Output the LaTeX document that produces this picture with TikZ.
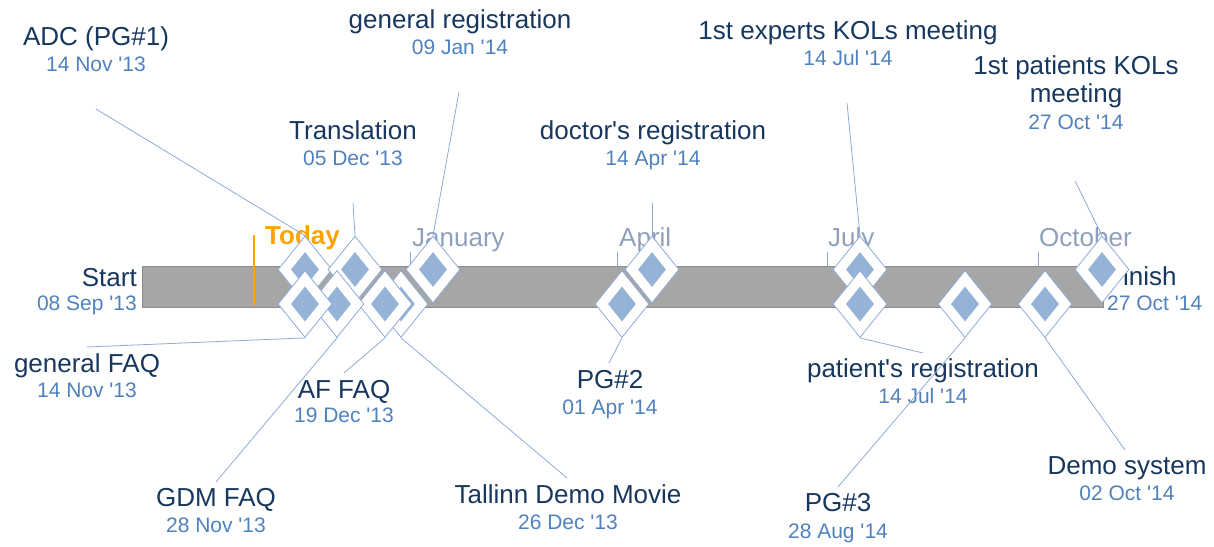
\documentclass[tikz,border=0pt]{standalone}
\usepackage{fontspec}
\setmainfont{Liberation Sans}
\usetikzlibrary{shapes.geometric}
\definecolor{navy}{RGB}{23,55,94}
\definecolor{dateblue}{RGB}{79,129,189}
\definecolor{monthgray}{RGB}{142,160,188}
\definecolor{connblue}{RGB}{143,170,214}
\definecolor{fillblue}{RGB}{149,179,215}
\definecolor{todayorange}{RGB}{255,163,0}
\definecolor{barfill}{RGB}{166,166,166}
\definecolor{barline}{RGB}{140,140,140}
\newcommand\apo{\textquotesingle}
\newcommand\mstone[3]{\node[msout] (d#1) at (#2,#3) {}; \node[msin] (i#1) at (d#1.center) {};}
\begin{document}
\begin{tikzpicture}[x=1pt,y=-1pt,
  ttl/.style={font=\fontsize{26}{30}\selectfont, text=navy, inner sep=0pt, anchor=base},
  dte/.style={font=\fontsize{21}{25}\selectfont, text=dateblue, inner sep=0pt, anchor=base},
  mon/.style={font=\fontsize{26}{30}\selectfont, text=monthgray, inner sep=0pt, anchor=base west},
  montick/.style={draw=connblue, line width=0.8pt},
  conn/.style={draw=connblue, line width=0.8pt},
  msout/.style={shape=diamond, draw=connblue, fill=white, line width=0.8pt, minimum width=54pt, minimum height=67pt, inner sep=0pt},
  msin/.style={shape=diamond, fill=fillblue, minimum width=28pt, minimum height=35pt, inner sep=0pt},
]
\useasboundingbox (0,0) rectangle (1214,546);
% bar
\node[draw=barline, fill=barfill, line width=0.8pt, minimum width=961pt, minimum height=41pt, inner sep=0pt, anchor=north west] (bar) at (142,266) {};
% today line
\draw[todayorange, line width=1.3pt] (254,235) -- (254,305);
% month ticks and labels
\draw[montick] (410,252) -- (410,266);
\draw[montick] (617,252) -- (617,266);
\draw[montick] (827,252) -- (827,266);
\draw[montick] (1038,252) -- (1038,266);
\node[mon] (mJan) at (412,246) {January};
\node[mon] (mApr) at (619,246) {April};
\node[mon] (mJul) at (828,246) {July};
\node[mon] (mOct) at (1039,246) {October};
\node[font=\bfseries\fontsize{26}{30}\selectfont, text=todayorange, anchor=base west, inner sep=0pt] (today) at (265,244) {Today};
% start / finish
\node[ttl, anchor=base east] (tStart) at (137,286) {Start};
\node[dte, anchor=base east] (sStart) at (137,310) {08 Sep \apo13};
\node[ttl, anchor=base west] (tFin) at (1107,285) {Finish};
\node[dte, anchor=base west] (sFin) at (1107,310) {27 Oct \apo14};
% labels above
\node[ttl] (tADC) at (96,45) {ADC (PG\#1)};
\node[dte] (sADC) at (96,71) {14 Nov \apo13};
\node[ttl] (tGR) at (460,28) {general registration};
\node[dte] (sGR) at (460,54) {09 Jan \apo14};
\node[ttl] (tTr) at (353,139) {Translation};
\node[dte] (sTr) at (353,165) {05 Dec \apo13};
\node[ttl] (tDR) at (653,139) {doctor\apo s registration};
\node[dte] (sDR) at (653,165) {14 Apr \apo14};
\node[ttl] (tEK) at (848,39) {1st experts KOLs meeting};
\node[dte] (sEK) at (848,65) {14 Jul \apo14};
\node[ttl] (tPKa) at (1076,74) {1st patients KOLs};
\node[ttl] (tPKb) at (1076,102) {meeting};
\node[dte] (sPK) at (1076,129) {27 Oct \apo14};
% labels below
\node[ttl] (tGF) at (87,372) {general FAQ};
\node[dte] (sGF) at (87,397) {14 Nov \apo13};
\node[ttl] (tAF) at (344,398) {AF FAQ};
\node[dte] (sAF) at (344,422) {19 Dec \apo13};
\node[ttl] (tP2) at (610,388) {PG\#2};
\node[dte] (sP2) at (610,414) {01 Apr \apo14};
\node[ttl] (tGD) at (216,506) {GDM FAQ};
\node[dte] (sGD) at (216,532) {28 Nov \apo13};
\node[ttl] (tTD) at (568,503) {Tallinn Demo Movie};
\node[dte] (sTD) at (568,529) {26 Dec \apo13};
\node[ttl] (tPR) at (923,377) {patient\apo s registration};
\node[dte] (sPR) at (923,403) {14 Jul \apo14};
\node[ttl] (tP3) at (838,511) {PG\#3};
\node[dte] (sP3) at (838,538) {28 Aug \apo14};
\node[ttl] (tDS) at (1127,474) {Demo system};
\node[dte] (sDS) at (1127,500) {02 Oct \apo14};
% connector free ends
\coordinate (cADC) at (96,109);
\coordinate (cTr) at (353,203);
\coordinate (cGR) at (459,92);
\coordinate (cDR) at (652,203);
\coordinate (cEK) at (847,103);
\coordinate (cPK) at (1075,181);
\coordinate (cGF) at (87,347);
\coordinate (cGD) at (216,482);
\coordinate (cAF) at (344,373);
\coordinate (cTD) at (567,478);
\coordinate (cP2) at (609,363);
\coordinate (cPR) at (923,353);
\coordinate (cP3) at (838,487);
\coordinate (cDS) at (1125,450);
% milestones: upper row
\mstone{ADC}{305}{269.5}
\mstone{Tr}{355}{269.5}
\mstone{GR}{433}{269.5}
\mstone{DR}{652}{269.5}
\mstone{EK}{860}{269.5}
\mstone{PK}{1102}{269.5}
% lower row, right to left
\mstone{DS}{1045}{304}
\mstone{PThree}{965}{304}
\mstone{PR}{860}{304}
\mstone{PTwo}{622}{304}
\mstone{TD}{401}{304}
\mstone{AF}{385}{304}
\mstone{GD}{337}{304}
\mstone{GF}{305}{304}
% connectors
\draw[conn] (dADC.north) -- (cADC);
\draw[conn] (dTr.north) -- (cTr);
\draw[conn] (dGR.north) -- (cGR);
\draw[conn] (dDR.north) -- (cDR);
\draw[conn] (dEK.north) -- (cEK);
\draw[conn] (dPK.north) -- (cPK);
\draw[conn] (dGF.south) -- (cGF);
\draw[conn] (dGD.south) -- (cGD);
\draw[conn] (dAF.south) -- (cAF);
\draw[conn] (dTD.south) -- (cTD);
\draw[conn] (dPTwo.south) -- (cP2);
\draw[conn] (dPR.south) -- (cPR);
\draw[conn] (dPThree.south) -- (cP3);
\draw[conn] (dDS.south) -- (cDS);
\end{tikzpicture}
\end{document}
